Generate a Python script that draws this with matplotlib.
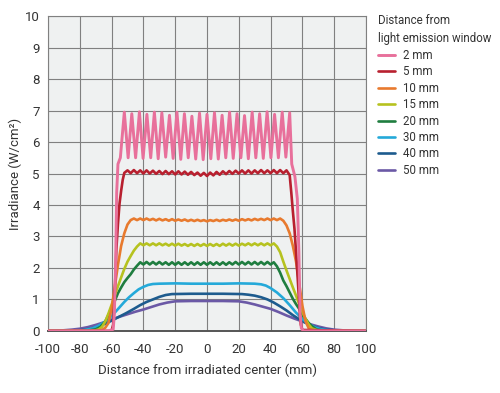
import numpy as np
import matplotlib
matplotlib.use("Agg")
import matplotlib.pyplot as plt

# ── Data ──────────────────────────────────────────────────────────────────
LABELS = ["2 mm", "5 mm", "10 mm", "15 mm", "20 mm", "30 mm", "40 mm", "50 mm"]
COLORS = ["#e8709b", "#b8202f", "#e87a2e", "#b6c21f", "#1f7d3f",
          "#24a9d9", "#1d5b8e", "#6b59a6"]

# 2 mm: strong ripple, peaks / troughs alternate
X_2 = [-100, -62, -59, -58.3, -57.5, -56.8, -56, -54.5,
       -52.0, -49.6, -47.3, -44.9, -42.5, -40.2, -37.8, -35.4, -33.1, -30.7,
       -28.4, -26.0, -23.6, -21.3, -18.9, -16.5, -14.2, -11.8, -9.5, -7.1,
       -4.7, -2.4, 0.0, 2.4, 4.7, 7.1, 9.5, 11.8, 14.2, 16.5, 18.9, 21.3,
       23.6, 26.0, 28.4, 30.7, 33.1, 35.4, 37.8, 40.2, 42.5, 44.9, 47.3,
       49.6, 52.0,
       53.3, 55.3, 56.8, 57.8, 58.5, 59.3, 60.5, 100]
Y_2 = [0, 0, 0.05, 0.5, 2.0, 4.4, 5.3, 5.5,
       6.95, 5.50, 6.90, 5.50, 6.96, 5.48, 6.88, 5.50, 6.95, 5.47, 6.93, 5.52,
       6.85, 5.48, 6.95, 5.45, 6.90, 5.50, 6.82, 5.46, 6.92, 5.44, 6.88,
       5.47, 6.93, 5.46, 6.85, 5.50, 6.95, 5.48, 6.90, 5.50, 6.84, 5.47,
       6.95, 5.50, 6.90, 5.48, 6.96, 5.50, 6.88, 5.50, 6.95, 5.52, 6.93,
       5.3, 4.9, 4.2, 2.5, 0.6, 0.1, 0, 0]

# 5 mm: small ripple on a ~5 W/cm2 plateau
X_5 = [-100, -60, -59, -58, -57, -56, -55, -54, -53, -52,
       -50, -48, -46, -44, -42, -40, -38, -36, -34, -32, -30, -28, -26, -24,
       -22, -20, -18, -16, -14, -12, -10, -8, -6, -4, -2, 0, 2, 4, 6, 8, 10,
       12, 14, 16, 18, 20, 22, 24, 26, 28, 30, 32, 34, 36, 38, 40, 42, 44,
       46, 48, 50,
       52, 53, 54, 55, 56, 57, 58, 58.5, 59, 60, 100]
Y_5 = [0, 0, 0.2, 1.2, 2.6, 3.4, 4.05, 4.45, 4.8, 5.02,
       5.10, 5.01, 5.11, 5.01, 5.10, 5.00, 5.10, 5.00, 5.09, 4.99, 5.08,
       4.98, 5.08, 4.98, 5.07, 4.97, 5.07, 4.97, 5.06, 4.96, 5.05, 4.95,
       5.03, 4.93, 5.02, 4.92, 5.03, 4.94, 5.05, 4.96, 5.07, 4.98, 5.08,
       4.99, 5.09, 5.00, 5.10, 5.00, 5.10, 5.00, 5.10, 5.01, 5.11, 5.01,
       5.10, 5.01, 5.11, 5.01, 5.11, 5.01, 5.10,
       4.95, 4.4, 3.8, 3.25, 2.5, 1.7, 0.9, 0.45, 0.2, 0.03, 0]

# 10 mm
X_10 = [-100, -70, -66, -64, -62, -60, -58, -56, -54, -52, -50, -48,
        -46, -44, -42, -40, -38, -36, -34, -32, -30, -28, -26, -24, -22,
        -20, -18, -16, -14, -12, -10, -8, -6, -4, -2, 0, 2, 4, 6, 8, 10,
        12, 14, 16, 18, 20, 22, 24, 26, 28, 30, 32, 34, 36, 38, 40, 42, 44,
        46,
        48, 50, 52, 54, 56, 58, 60, 62, 64, 66, 70, 100]
Y_10 = [0, 0, 0.03, 0.1, 0.25, 0.7, 1.4, 2.1, 2.7, 3.1, 3.38, 3.52,
        3.57, 3.52, 3.57, 3.52, 3.57, 3.52, 3.56, 3.51, 3.56, 3.51, 3.55,
        3.50, 3.55, 3.50, 3.54, 3.50, 3.54, 3.49, 3.53, 3.49, 3.53, 3.49,
        3.52, 3.48, 3.52, 3.49, 3.53, 3.49, 3.53, 3.50, 3.54, 3.50, 3.54,
        3.50, 3.55, 3.51, 3.55, 3.51, 3.56, 3.52, 3.56, 3.52, 3.57, 3.52,
        3.57, 3.52, 3.57,
        3.5, 3.35, 3.1, 2.7, 2.2, 1.5, 0.8, 0.3, 0.08, 0.02, 0, 0]

# 15 mm
X_15 = [-100, -74, -70, -68, -66, -64, -62, -60, -58, -56, -54, -52, -50,
        -48, -46, -44,
        -42, -40, -38, -36, -34, -32, -30, -28, -26, -24, -22, -20, -18,
        -16, -14, -12, -10, -8, -6, -4, -2, 0, 2, 4, 6, 8, 10, 12, 14, 16,
        18, 20, 22, 24, 26, 28, 30, 32, 34, 36, 38, 40, 42,
        44, 46, 48, 50, 52, 54, 56, 58, 60, 62, 64, 66, 70, 74, 100]
Y_15 = [0, 0, 0.02, 0.05, 0.13, 0.3, 0.55, 0.83, 1.13, 1.42, 1.7, 1.97,
        2.2, 2.38, 2.55, 2.68,
        2.78, 2.72, 2.78, 2.72, 2.78, 2.72, 2.78, 2.72, 2.77, 2.71, 2.77,
        2.71, 2.77, 2.71, 2.76, 2.70, 2.76, 2.70, 2.76, 2.70, 2.76, 2.70,
        2.76, 2.70, 2.76, 2.70, 2.77, 2.71, 2.77, 2.71, 2.77, 2.71, 2.77,
        2.72, 2.78, 2.72, 2.78, 2.72, 2.78, 2.72, 2.78, 2.72, 2.78,
        2.68, 2.5, 2.2, 1.92, 1.65, 1.38, 1.12, 0.85, 0.6, 0.38, 0.2, 0.08,
        0.01, 0, 0]

# 20 mm
X_20 = [-100, -76, -70, -67, -64, -62, -60, -58, -56, -54, -52, -50, -48,
        -46, -44,
        -42, -40, -38, -36, -34, -32, -30, -28, -26, -24, -22, -20, -18,
        -16, -14, -12, -10, -8, -6, -4, -2, 0, 2, 4, 6, 8, 10, 12, 14, 16,
        18, 20, 22, 24, 26, 28, 30, 32, 34, 36, 38, 40, 42,
        44, 46, 48, 50, 52, 54, 56, 58, 60, 62, 64, 66, 69, 75, 100]
Y_20 = [0, 0, 0.05, 0.13, 0.3, 0.5, 0.75, 0.95, 1.2, 1.38, 1.55, 1.68, 1.8,
        1.95, 2.07,
        2.18, 2.11, 2.19, 2.11, 2.19, 2.11, 2.19, 2.11, 2.18, 2.10, 2.18,
        2.10, 2.18, 2.10, 2.18, 2.10, 2.18, 2.10, 2.18, 2.10, 2.18, 2.10,
        2.18, 2.10, 2.18, 2.10, 2.18, 2.10, 2.18, 2.11, 2.19, 2.11, 2.19,
        2.11, 2.19, 2.11, 2.19, 2.11, 2.19, 2.11, 2.19, 2.11, 2.18,
        2.05, 1.85, 1.6, 1.42, 1.22, 1.02, 0.85, 0.7, 0.52, 0.38, 0.25,
        0.15, 0.04, 0, 0]

# 30 mm
X_30 = [-100, -85, -78, -72, -68, -64, -61, -58, -55, -52, -49, -46, -43,
        -40, -37, -34, -30, -20, -10, 0, 10, 20, 30, 34, 37, 40, 44, 48,
        52, 56, 60, 64, 68, 72, 78, 85, 100]
Y_30 = [0, 0, 0.02, 0.08, 0.17, 0.3, 0.42, 0.58, 0.75, 0.92, 1.07, 1.2,
        1.32, 1.4, 1.46, 1.49, 1.5, 1.51, 1.5, 1.5, 1.5, 1.51, 1.5, 1.48,
        1.44, 1.36, 1.22, 1.04, 0.82, 0.58, 0.38, 0.22, 0.11, 0.05, 0.01,
        0, 0]

# 40 mm
X_40 = [-100, -95, -85, -78, -73, -68, -64, -61, -56, -51, -46, -42, -38,
        -34, -30, -26, -22, -10, 0, 10, 22, 26, 30, 34, 38, 42, 46, 50, 54,
        58, 62, 66, 70, 75, 80, 90, 100]
Y_40 = [0, 0, 0.01, 0.03, 0.07, 0.14, 0.23, 0.3, 0.43, 0.56, 0.7, 0.82,
        0.92, 1.0, 1.08, 1.14, 1.17, 1.18, 1.18, 1.18, 1.17, 1.15, 1.12,
        1.07, 1.0, 0.9, 0.78, 0.65, 0.5, 0.37, 0.26, 0.16, 0.09, 0.04,
        0.02, 0, 0]

# 50 mm
X_50 = [-100, -95, -90, -85, -80, -75, -70, -65, -60, -55, -50, -45, -40,
        -35, -30, -25, -20, -10, 0, 10, 20, 25, 30, 35, 40, 45, 50, 55, 60,
        65, 70, 75, 80, 85, 90, 95, 100]
Y_50 = [0, 0.005, 0.02, 0.04, 0.07, 0.12, 0.19, 0.27, 0.36, 0.45, 0.53,
        0.61, 0.68, 0.76, 0.84, 0.9, 0.94, 0.95, 0.95, 0.95, 0.94, 0.9,
        0.84, 0.77, 0.7, 0.6, 0.49, 0.39, 0.3, 0.21, 0.14, 0.08, 0.04,
        0.02, 0.005, 0, 0]

SERIES_X = [X_2, X_5, X_10, X_15, X_20, X_30, X_40, X_50]
SERIES_Y = [Y_2, Y_5, Y_10, Y_15, Y_20, Y_30, Y_40, Y_50]
X_TICKS = list(range(-100, 101, 20))
Y_TICKS = list(range(0, 11))

# ── Style ─────────────────────────────────────────────────────────────────
plt.rcParams["font.family"] = ["Roboto", "DejaVu Sans"]
plt.rcParams["axes.unicode_minus"] = False
TEXT = "#333333"

fig = plt.figure(figsize=(5.0, 3.93), dpi=100)
ax = fig.add_axes([0.096, 0.158, 0.636, 0.801])
ax.set_facecolor("#eff1f1")

lines = []
for xs, ys, col, lab in zip(SERIES_X, SERIES_Y, COLORS, LABELS):
    assert len(xs) == len(ys), lab
    lw = 2.1 if lab == "2 mm" else 1.9
    ln, = ax.plot(xs, ys, color=col, lw=lw, label=lab,
                  solid_joinstyle="round", solid_capstyle="round", zorder=3)
    lines.append(ln)
# narrow-beam curves on top
for i, ln in enumerate(lines):
    ln.set_zorder(3 + (len(lines) - i) * 0.01)

ax.set_xlim(-100, 100)
ax.set_ylim(0, 10)
ax.set_xticks(X_TICKS)
ax.set_yticks(Y_TICKS)
ax.grid(True, color="#808080", lw=0.8, zorder=1)
ax.set_axisbelow(True)
ax.tick_params(length=0, labelsize=9.5, labelcolor=TEXT)
ax.tick_params(axis="x", pad=9)
ax.tick_params(axis="y", pad=6)
for s in ax.spines.values():
    s.set_color("#808080")
    s.set_linewidth(0.8)
ax.spines["bottom"].set_color("#555555")
ax.spines["bottom"].set_linewidth(1.4)

ax.set_xlabel("Distance from irradiated center (mm)", fontsize=9.5,
              color=TEXT, labelpad=5)
ax.set_ylabel("Irradiance (W/cm²)", fontsize=9.5, color=TEXT, labelpad=2)

leg = fig.legend(handles=lines, loc="upper left",
                 bbox_to_anchor=(0.756, 0.965), frameon=False,
                 title="Distance from\nlight emission window",
                 fontsize=8.3, title_fontsize=8.3, alignment="left",
                 handlelength=1.5, handletextpad=0.7, labelspacing=0.3,
                 borderaxespad=0, borderpad=0)
for t in leg.get_texts():
    t.set_color(TEXT)
leg.get_title().set_color(TEXT)
leg.get_title().set_linespacing(1.55)

fig.savefig("out.png", dpi=100, facecolor="white")
